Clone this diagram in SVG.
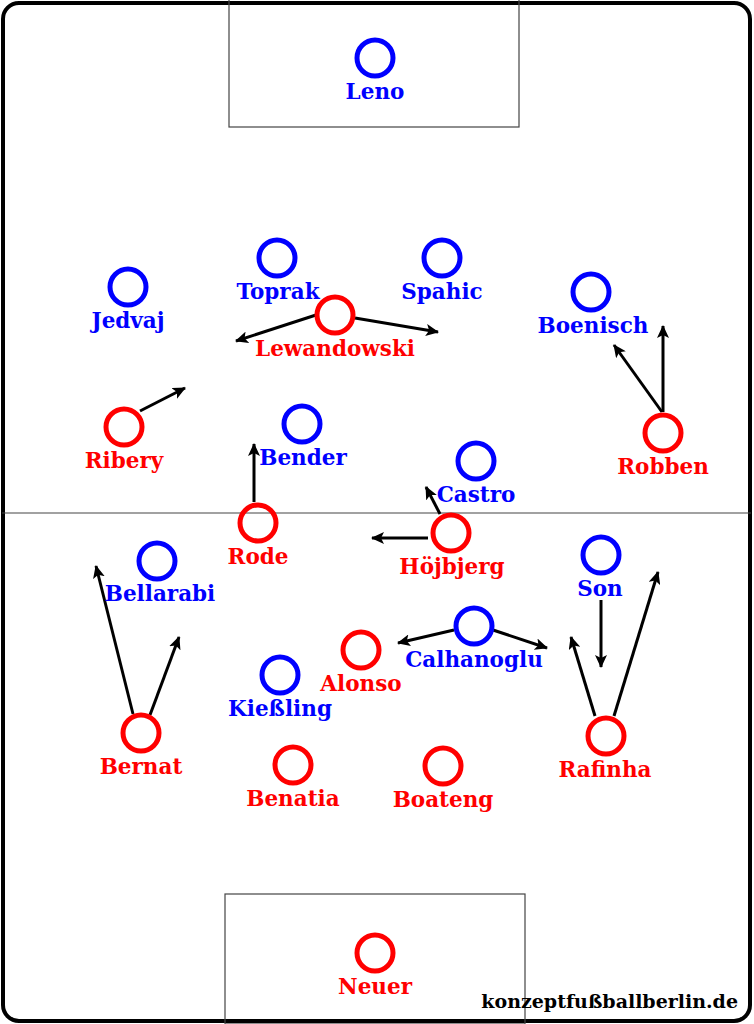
<svg xmlns="http://www.w3.org/2000/svg" width="754" height="1024" viewBox="0 0 754 1024">
<defs>
<style>
.pb{fill:none;stroke:#0000ff;stroke-width:5}
.pr{fill:none;stroke:#ff0000;stroke-width:5}
.tb{fill:#0000ff;font-family:"DejaVu Serif",serif;font-weight:bold;font-size:21.5px;text-anchor:middle}
.tr{fill:#ff0000;font-family:"DejaVu Serif",serif;font-weight:bold;font-size:21.5px;text-anchor:middle}
.ar{stroke:#000;stroke-width:3;fill:none;marker-end:url(#ah)}
.fl{fill:none;stroke:#444;stroke-width:1.2}
</style>
<marker id="ah" markerUnits="userSpaceOnUse" markerWidth="14" markerHeight="12" refX="12" refY="6" orient="auto">
<path d="M0,0 L13,6 L0,12 L3,6 Z" fill="#000"/>
</marker>
</defs>
<rect width="754" height="1024" fill="#fff"/>
<g id="field">
<rect x="3" y="3" width="747" height="1018" rx="16" fill="none" stroke="#000" stroke-width="4"/>
<line x1="2" y1="513" x2="751" y2="513" class="fl"/>
<rect x="229" y="-2" width="290" height="129" class="fl"/>
<rect x="225" y="894" width="300" height="130" class="fl"/>
</g>
<g id="connectors">
<line class="ar" x1="316" y1="315" x2="236" y2="341"/>
<line class="ar" x1="355" y1="318" x2="438" y2="332"/>
<line class="ar" x1="140" y1="411" x2="185" y2="388"/>
<line class="ar" x1="662" y1="412" x2="614" y2="345"/>
<line class="ar" x1="663" y1="412" x2="663" y2="326"/>
<line class="ar" x1="254" y1="502" x2="254" y2="444"/>
<line class="ar" x1="440" y1="514" x2="426" y2="487"/>
<line class="ar" x1="428" y1="538" x2="372" y2="538"/>
<line class="ar" x1="133" y1="714" x2="96" y2="566"/>
<line class="ar" x1="150" y1="715" x2="179" y2="637"/>
<line class="ar" x1="454" y1="630" x2="398" y2="643"/>
<line class="ar" x1="493" y1="630" x2="547" y2="648"/>
<line class="ar" x1="601" y1="600" x2="601" y2="667"/>
<line class="ar" x1="595" y1="716" x2="571" y2="637"/>
<line class="ar" x1="614" y1="716" x2="658" y2="572"/>
</g>
<g id="leno"><circle cx="375" cy="58" r="18" class="pb"/><text x="375" y="99" class="tb">Leno</text></g>
<g id="toprak"><circle cx="277" cy="258" r="18" class="pb"/><text x="278" y="299" class="tb">Toprak</text></g>
<g id="spahic"><circle cx="442" cy="258" r="18" class="pb"/><text x="442" y="299" class="tb">Spahic</text></g>
<g id="jedvaj"><circle cx="128" cy="287" r="18" class="pb"/><text x="128" y="328" class="tb">Jedvaj</text></g>
<g id="boenisch"><circle cx="591" cy="292" r="18" class="pb"/><text x="593" y="333" class="tb">Boenisch</text></g>
<g id="lewandowski"><circle cx="335" cy="315" r="18" class="pr"/><text x="335" y="356" class="tr">Lewandowski</text></g>
<g id="ribery"><circle cx="124" cy="427" r="18" class="pr"/><text x="124" y="468" class="tr">Ribery</text></g>
<g id="bender"><circle cx="302" cy="424" r="18" class="pb"/><text x="303" y="465" class="tb">Bender</text></g>
<g id="robben"><circle cx="663" cy="433" r="18" class="pr"/><text x="663" y="474" class="tr">Robben</text></g>
<g id="castro"><circle cx="476" cy="461" r="18" class="pb"/><text x="476" y="502" class="tb">Castro</text></g>
<g id="rode"><circle cx="258" cy="523" r="18" class="pr"/><text x="258" y="564" class="tr">Rode</text></g>
<g id="hojbjerg"><circle cx="451" cy="533" r="18" class="pr"/><text x="452" y="574" class="tr">Höjbjerg</text></g>
<g id="son"><circle cx="601" cy="555" r="18" class="pb"/><text x="600" y="596" class="tb">Son</text></g>
<g id="bellarabi"><circle cx="157" cy="561" r="18" class="pb"/><text x="160" y="601" class="tb">Bellarabi</text></g>
<g id="calhanoglu"><circle cx="474" cy="626" r="18" class="pb"/><text x="474" y="667" class="tb">Calhanoglu</text></g>
<g id="alonso"><circle cx="361" cy="650" r="18" class="pr"/><text x="361" y="691" class="tr">Alonso</text></g>
<g id="kiessling"><circle cx="280" cy="675" r="18" class="pb"/><text x="280" y="716" class="tb">Kießling</text></g>
<g id="bernat"><circle cx="141" cy="733" r="18" class="pr"/><text x="141" y="774" class="tr">Bernat</text></g>
<g id="rafinha"><circle cx="606" cy="736" r="18" class="pr"/><text x="605" y="777" class="tr">Rafinha</text></g>
<g id="benatia"><circle cx="293" cy="765" r="18" class="pr"/><text x="293" y="806" class="tr">Benatia</text></g>
<g id="boateng"><circle cx="443" cy="766" r="18" class="pr"/><text x="443" y="807" class="tr">Boateng</text></g>
<g id="neuer"><circle cx="375" cy="953" r="18" class="pr"/><text x="375" y="994" class="tr">Neuer</text></g>
<text x="738" y="1008" font-family="DejaVu Serif,serif" font-weight="bold" font-size="19" text-anchor="end" fill="#000">konzeptfußballberlin.de</text>
</svg>
